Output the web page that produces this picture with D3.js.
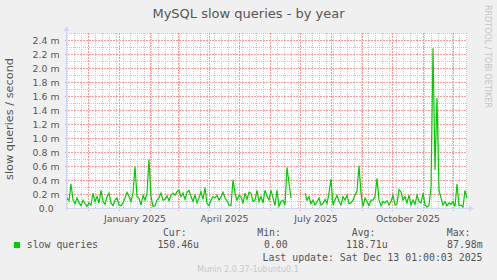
<!DOCTYPE html>
<html>
<head>
<meta charset="utf-8">
<script src="https://cdn.jsdelivr.net/npm/d3@7"></script>
<style>
  html, body { margin: 0; padding: 0; background: #f0f0f0; }
  svg { display: block; }
</style>
</head>
<body>
<div id="chart"></div>
<script>
// Munin "by year" graph, MySQL slow queries (rrdtool look)
var TITLE = 'MySQL slow queries - by year';
var Y_LABEL = 'slow queries / second';
var SERIES_NAME = 'slow queries';
var SERIES_COLOR = '#00CC00';
var WATERMARK = 'RRDTOOL / TOBI OETIKER';
var FOOTER = 'Munin 2.0.37-1ubuntu0.1';
var LAST_UPDATE = 'Last update: Sat Dec 13 01:00:03 2025';

// first sample at the left edge, one sample every 2 days, 400 days shown
var START = new Date(2024, 10, 9, 12);
var STEP_DAYS = 2;
var SPAN_DAYS = 400;

// values in milli-queries/second, null = no data
var VALUES_M = [
  0.15, 0.11, 0.35, 0.12, 0.07, 0.15, 0.08, 0.04, 0.12, 0.07,
  0.03, 0.08, 0.05, 0.22, 0.10, 0.17, 0.08, 0.26, 0.10, 0.06,
  0.17, 0.22, 0.08, 0.04, 0.12, 0.15, 0.05, 0.04, 0.08, 0.15,
  0.23, 0.17, 0.10, 0.22, 0.60, 0.17, 0.15, 0.05, 0.19, 0.12,
  0.22, 0.70, 0.17, 0.03, 0.04, 0.12, 0.15, 0.22, 0.12, 0.13,
  0.18, 0.11, 0.19, 0.22, 0.19, 0.24, 0.26, 0.17, 0.22, 0.13,
  0.23, 0.26, 0.17, 0.10, 0.19, 0.08, 0.15, 0.24, 0.13, 0.30,
  0.07, 0.04, 0.12, 0.17, 0.15, 0.19, 0.12, 0.17, 0.23, 0.15,
  0.11, 0.05, 0.04, 0.41, 0.22, 0.12, 0.19, 0.17, 0.07, 0.22,
  0.13, 0.23, 0.22, 0.10, 0.12, 0.26, 0.10, 0.17, 0.08, 0.26,
  0.18, 0.12, 0.26, 0.15, 0.04, 0.26, 0.03, 0.10, 0.12, 0.05,
  0.59, 0.36, 0.15, null, null, null, null, null, null, 0.22,
  0.12, 0.17, 0.07, 0.12, 0.05, 0.10, 0.15, 0.05, 0.07, 0.13,
  0.07, 0.22, 0.42, 0.05, 0.12, 0.19, 0.10, 0.05, 0.17, 0.12,
  0.19, 0.07, 0.08, 0.12, 0.19, 0.25, 0.61, 0.22, 0.03, 0.15,
  0.10, 0.04, 0.12, 0.12, 0.17, 0.43, 0.12, 0.04, 0.10, 0.08,
  0.11, 0.05, 0.10, 0.19, 0.05, 0.07, 0.27, 0.24, 0.12, 0.17,
  0.08, 0.19, 0.05, 0.12, 0.06, 0.19, 0.10, 0.08, 0.22, 0.05,
  0.02, 0.05, 0.30, 2.29, 0.55, 1.58, 0.26, 0.15, 0.05, 0.10,
  0.04, 0.08, 0.06, 0.10, 0.03, 0.35, 0.04, 0.05, 0.02, 0.26,
  0.15
];

var Y_MAX_M = 2.5;
var Y_TICKS_M = [0, 0.2, 0.4, 0.6, 0.8, 1.0, 1.2, 1.4, 1.6, 1.8, 2.0, 2.2, 2.4];
var X_LABELS = [
  ['January 2025', new Date(2025, 0, 1)],
  ['April 2025', new Date(2025, 3, 1)],
  ['July 2025', new Date(2025, 6, 1)],
  ['October 2025', new Date(2025, 9, 1)]
];
var STAT_NAMES = ['Cur:', 'Min:', 'Avg:', 'Max:'];
var STAT_VALUES = ['150.46u', '0.00', '118.71u', '87.98m'];

(function () {
    var W = 497, H = 280;
    var x0 = 67, x1 = 467, yTop = 33, yBot = 208.5;
    var SANS = 'DejaVu Sans, sans-serif';
    var MONO = 'DejaVu Sans Mono, monospace';
    var FONT = '#555';
    var AXIS = '#CFD6F8';
    var MINOR = '#c6c6c6', MAJOR = '#f79a9a';

    var data = VALUES_M.map(function (v, i) {
        return { date: d3.timeDay.offset(START, i * STEP_DAYS), v: v };
    });

    var svg = d3.select('#chart').append('svg')
        .attr('width', W).attr('height', H)
        .style('background', '#f0f0f0');

    var x = d3.scaleTime()
        .domain([START, d3.timeDay.offset(START, SPAN_DAYS)])
        .range([x0, x1]);
    var y = d3.scaleLinear().domain([0, Y_MAX_M]).range([yBot, yTop + 0.5]);

    // canvas
    svg.append('rect').attr('x', x0).attr('y', yTop)
        .attr('width', x1 - x0).attr('height', yBot - yTop).attr('fill', '#fff');

    var g = svg.append('g').attr('stroke-width', 1);
    function vline(d, color, ext, dash) {
        var px = Math.floor(x(d)) + 0.5;
        g.append('line').attr('x1', px).attr('x2', px)
            .attr('y1', yTop).attr('y2', Math.ceil(yBot) + ext)
            .attr('stroke', color).attr('stroke-dasharray', dash);
    }
    function hline(t, color, ext, dash) {
        var py = Math.floor(y(t)) + 0.5;
        g.append('line').attr('x1', x0 - ext).attr('x2', x1)
            .attr('y1', py).attr('y2', py)
            .attr('stroke', color).attr('stroke-dasharray', dash);
        return py;
    }

    var months = d3.timeMonth.range(x.domain()[0], x.domain()[1]);
    var monthX = months.map(function (d) { return Math.floor(x(d)); });

    // minor grid: weeks and 0.1 m (skipped where a major line sits)
    d3.timeWeek.range(x.domain()[0], x.domain()[1]).forEach(function (d) {
        if (monthX.indexOf(Math.floor(x(d))) < 0) vline(d, MINOR, 0, '1,1');
    });
    y.ticks(25).forEach(function (t) {
        if (Math.abs(t * 5 - Math.round(t * 5)) > 1e-6) hline(t, MINOR, 0, '1,1');
    });

    // major grid: months and 0.2 m
    months.forEach(function (d) { vline(d, MAJOR, 2, '2,1'); });
    Y_TICKS_M.forEach(function (t) {
        var py = hline(t, MAJOR, 2, '2,1');
        svg.append('text').attr('x', 59.5).attr('y', py + 3.4)
            .attr('text-anchor', 'end').attr('font-family', SANS).attr('font-size', 9.33)
            .attr('fill', FONT).style('white-space', 'pre')
            .text(t === 0 ? '0.0  ' : d3.format('.1f')(t) + ' m');
    });

    X_LABELS.forEach(function (L) {
        var mid = new Date((+L[1] + +d3.timeMonth.offset(L[1], 1)) / 2);
        svg.append('text').attr('x', x(mid)).attr('y', 221.5)
            .attr('text-anchor', 'middle').attr('font-family', SANS).attr('font-size', 9.33)
            .attr('fill', FONT).text(L[0]);
    });

    // data line
    var line = d3.line()
        .defined(function (d) { return d.v != null; })
        .x(function (d) { return x(d.date); })
        .y(function (d) { return y(d.v); });
    svg.append('path').datum(data).attr('d', line)
        .attr('fill', 'none').attr('stroke', SERIES_COLOR).attr('stroke-width', 1.2);

    // axes with arrows
    svg.append('line').attr('x1', x0 - 0.5).attr('x2', x0 - 0.5).attr('y1', yBot + 2).attr('y2', yTop - 2)
        .attr('stroke', AXIS);
    svg.append('line').attr('x1', x0 - 2).attr('x2', x1 + 3).attr('y1', yBot).attr('y2', yBot)
        .attr('stroke', AXIS);
    svg.append('path').attr('d', d3.line()([[x0 - 3.5, yTop - 2], [x0 + 2.5, yTop - 2], [x0 - 0.5, yTop - 7]]) + 'Z')
        .attr('fill', AXIS);
    svg.append('path').attr('d', d3.line()([[x1 + 2, yBot - 3], [x1 + 2, yBot + 3], [x1 + 7, yBot]]) + 'Z')
        .attr('fill', AXIS);

    // titles
    svg.append('text').attr('x', 248.5).attr('y', 17.5)
        .attr('text-anchor', 'middle').attr('font-family', SANS).attr('font-size', 13)
        .attr('fill', FONT).text(TITLE);
    svg.append('text').attr('transform', 'translate(13,119) rotate(-90)')
        .attr('text-anchor', 'middle').attr('font-family', SANS).attr('font-size', 11.3)
        .attr('fill', FONT).text(Y_LABEL);
    svg.append('text').attr('transform', 'translate(485,5) rotate(90)')
        .attr('font-family', SANS).attr('font-size', 8)
        .attr('fill', '#c4c4c4').text(WATERMARK);

    // legend
    svg.append('rect').attr('x', 14).attr('y', 242).attr('width', 6).attr('height', 6)
        .attr('fill', SERIES_COLOR);
    svg.append('text').attr('x', 26.7).attr('y', 248.3)
        .attr('font-family', MONO).attr('font-size', 9.9).attr('fill', FONT)
        .text(SERIES_NAME);
    var cols = [[186.7, 199], [281, 287.7], [375.5, 387.7], [470.5, 482.7]];
    STAT_NAMES.forEach(function (n, i) {
        svg.append('text').attr('x', cols[i][0]).attr('y', 236.3)
            .attr('text-anchor', 'end').attr('font-family', MONO).attr('font-size', 9.9)
            .attr('fill', FONT).text(n);
        svg.append('text').attr('x', cols[i][1]).attr('y', 248.3)
            .attr('text-anchor', 'end').attr('font-family', MONO).attr('font-size', 9.9)
            .attr('fill', FONT).text(STAT_VALUES[i]);
    });
    svg.append('text').attr('x', 482.5).attr('y', 260.5)
        .attr('text-anchor', 'end').attr('font-family', MONO).attr('font-size', 9.9)
        .attr('fill', FONT).text(LAST_UPDATE);

    svg.append('text').attr('x', 248).attr('y', 271.7)
        .attr('text-anchor', 'middle').attr('font-family', SANS).attr('font-size', 8)
        .attr('fill', '#c8c8c8').text(FOOTER);
})();
</script>
</body>
</html>
